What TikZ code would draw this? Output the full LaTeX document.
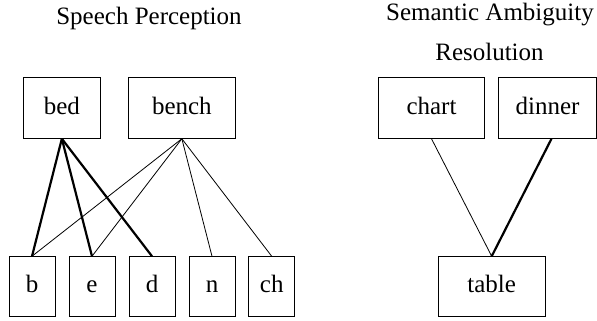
\documentclass[tikz,border=0pt]{standalone}
\usepackage{fontspec}
\setmainfont{Liberation Serif}
\tikzset{
  wordbox/.style={draw, line width=0.9pt, inner sep=0pt, minimum height=60.6pt,
    text height=18pt, text depth=6pt, font=\fontsize{25}{30}\selectfont},
  soundbox/.style={wordbox, minimum width=46pt, minimum height=60pt},
  weak/.style={line width=0.8pt},
  strong/.style={line width=2.2pt},
  heading/.style={anchor=base, font=\fontsize{25}{30}\selectfont}
}
\begin{document}
\begin{tikzpicture}[x=1pt,y=-1pt]
	\useasboundingbox (0,0) rectangle (597,321);

	% headings
	\node[heading] (hspeech) at (149,25) {Speech Perception};
	\node[heading] (hsem1) at (490,21) {Semantic Ambiguity};
	\node[heading] (hsem2) at (489.5,60) {Resolution};

	% words
	\node[wordbox, minimum width=76.3pt] (bed) at (61.85,108) {bed};
	\node[wordbox, minimum width=106.3pt] (bench) at (181.85,108) {bench};
	\node[wordbox, minimum width=105.6pt] (chart) at (431.5,108) {chart};
	\node[wordbox, minimum width=98pt] (dinner) at (547.5,108) {dinner};

	% sounds
	\node[soundbox] (b) at (32,286.7) {b};
	\node[soundbox] (e) at (92,286.7) {e};
	\node[soundbox] (d) at (152,286.7) {d};
	\node[soundbox] (n) at (212,286.7) {n};
	\node[soundbox] (ch) at (271.7,286.7) {ch};
	\node[wordbox, minimum width=106.7pt, minimum height=60pt] (table) at (491.7,286.7) {table};

	% bed
	\draw[strong] (bed.south) -- (b.north);
	\draw[strong] (bed.south) -- (e.north);
	\draw[strong] (bed.south) -- (d.north);

	% bench
	\draw[weak] (bench.south) -- (b.north);
	\draw[weak] (bench.south) -- (e.north);
	\draw[weak] (bench.south) -- (n.north);
	\draw[weak] (bench.south) -- (ch.north);

	% table
	\draw[weak] (chart.south) -- (table.north);
	\draw[strong] ([xshift=4pt]dinner.south) -- (table.north);

\end{tikzpicture}
\end{document}
